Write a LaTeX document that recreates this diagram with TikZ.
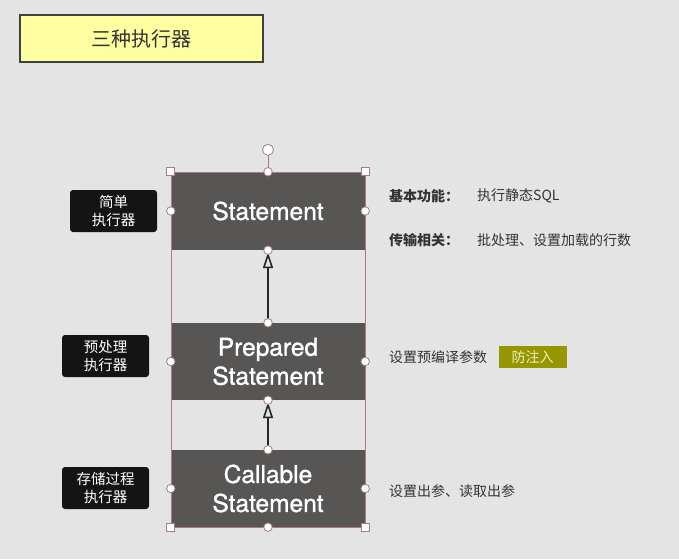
\documentclass[tikz,border=0pt]{standalone}
\usepackage{fontspec}
\setmainfont{Noto Sans CJK SC}
\newfontfamily\heros[FakeBold=1.2]{TeX Gyre Heros}
\usetikzlibrary{arrows.meta}

\definecolor{pagegray}{RGB}{228,228,228}
\definecolor{boxgray}{RGB}{87,86,85}
\definecolor{titleyellow}{RGB}{255,255,162}
\definecolor{handlered}{RGB}{165,125,130}
\definecolor{tagolive}{RGB}{150,150,0}
\definecolor{tagtext}{RGB}{240,240,190}

\tikzset{
    exec box/.style={fill=boxgray, text=white, minimum width=194, minimum height=77,
        inner sep=0, align=center, font=\heros\fontsize{24.5}{29}\selectfont},
    tag box/.style={fill=black!92, text=white, rounded corners=3pt, minimum width=87,
        minimum height=42, inner sep=0, align=center, font=\fontsize{14.5}{18}\selectfont},
    note/.style={anchor=west, inner sep=0, text=black!80, font=\fontsize{14}{16}\selectfont},
    handle dot/.style={circle, draw=handlered, fill=white, line width=0.8pt, minimum size=8.5, inner sep=0},
    handle sq/.style={rectangle, draw=handlered, fill=white, line width=0.8pt, minimum size=8, inner sep=0},
    inherit/.style={line width=2.4pt, draw=black!85, shorten >=2pt,
        -{Triangle[open, length=16pt, width=10pt, line width=1.6pt]}}
}

\begin{document}
\begin{tikzpicture}[x=1pt, y=-1pt]
    %page
        \fill[pagegray] (0,0) rectangle (679,559);
        \useasboundingbox (0,0) rectangle (679,559);

    %title
        \node[draw=black!75, line width=2pt, fill=titleyellow, minimum width=243, minimum height=47,
            inner sep=0, font=\fontsize{20}{24}\selectfont, text=black!80] (title) at (141.5,38.5) {三种执行器};

    %the three executors
        \node[exec box, minimum height=78] (stmt) at (268,211) {Statement};
        \node[exec box] (prep) at (268,361.5) {Prepared\\Statement};
        \node[exec box] (call) at (268,488.5) {Callable\\Statement};

        \draw[inherit] (prep.north) -- (stmt.south);
        \draw[inherit] (call.north) -- (prep.south);

    %selection frame and handles
        \draw[handlered, line width=0.6pt] (stmt.north west) rectangle (call.south east);
        \coordinate (rot) at ([yshift=22]stmt.north);
        \draw[handlered, line width=0.8pt] (stmt.north) -- (rot);
        \node[handle dot, minimum size=11] at (rot) {};
        \foreach \p in {stmt.north, stmt.south, prep.north, prep.south, call.north, call.south,
                        stmt.west, stmt.east, prep.west, prep.east, call.west, call.east}
            \node[handle dot] at (\p) {};
        \foreach \p in {stmt.north west, stmt.north east, call.south west, call.south east}
            \node[handle sq] at (\p) {};

    %tags on the left
        \node[tag box] (tstmt) at (113.5,211) {简单\\执行器};
        \node[tag box] (tprep) at (105.5,356) {预处理\\执行器};
        \node[tag box] (tcall) at (105.5,488) {存储过程\\执行器};

    %notes on the right
        \node[note, font=\bfseries\fontsize{14}{16}\selectfont] (basic) at (389,196) {基本功能：};
        \node[note] (basicv) at (477,196) {执行静态SQL};
        \node[note, font=\bfseries\fontsize{14}{16}\selectfont] (trans) at (389,240) {传输相关：};
        \node[note] (transv) at (477,240) {批处理、设置加载的行数};
        \node[note] (prepn) at (389,357) {设置预编译参数};
        \node[fill=tagolive, text=tagtext, minimum width=68, minimum height=22, inner sep=0,
            font=\fontsize{14}{16}\selectfont] (inject) at (532.5,357) {防注入};
        \node[note] (calln) at (389,491) {设置出参、读取出参};
\end{tikzpicture}
\end{document}
